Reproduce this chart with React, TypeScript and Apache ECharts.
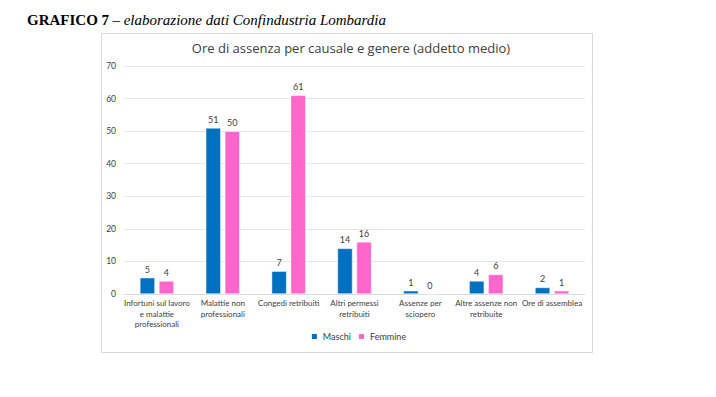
import React, { useEffect, useRef } from "react";
import * as echarts from "echarts";

const categories = [
  "Infortuni sul lavoro\ne malattie\nprofessionali",
  "Malattie non\nprofessionali",
  "Congedi retribuiti",
  "Altri permessi\nretribuiti",
  "Assenze per\nsciopero",
  "Altre assenze non\nretribuite",
  "Ore di assemblea",
];
const maschi = [5, 51, 7, 14, 1, 4, 2];
const femmine = [4, 50, 61, 16, 0, 6, 1];
const seriesNames = ["Maschi", "Femmine"];

export default function App() {
  const ref = useRef<HTMLDivElement>(null);
  useEffect(() => {
    const chart = echarts.init(ref.current!, null, { renderer: "svg" });
    const labelStyle = {
      show: true,
      position: "top" as const,
      fontSize: 9,
      color: "#404040",
      fontFamily: "Lato",
      distance: 4,
    };
    chart.setOption({
      animation: false,
      backgroundColor: "#ffffff",
      graphic: [
        {
          type: "rect",
          shape: { x: 101.5, y: 33.5, width: 491, height: 319 },
          style: { fill: "none", stroke: "#d9d9d9", lineWidth: 1 },
          z: -1,
        },
        {
          type: "text",
          left: 27,
          top: 12,
          style: {
            text: "{b|GRAFICO 7} {i|– elaborazione dati Confindustria Lombardia}",
            rich: {
              b: { fontFamily: "Liberation Serif", fontWeight: "bold", fontSize: 15, fill: "#000" },
              i: { fontFamily: "Liberation Serif", fontStyle: "italic", fontSize: 15, fill: "#000" },
            },
          },
        },
      ],
      title: {
        text: "Ore di assenza per causale e genere (addetto medio)",
        left: 346,
        textAlign: "center",
        top: 36,
        textStyle: { fontFamily: "Open Sans", fontWeight: "normal", fontSize: 13, color: "#404040" },
      },
      legend: {
        data: seriesNames,
        bottom: 51,
        left: "center",
        itemWidth: 7,
        itemHeight: 7,
        itemGap: 6,
        icon: "rect",
        textStyle: { fontFamily: "Lato", fontSize: 9, color: "#404040" },
      },
      grid: { left: 124, right: 131, top: 66, bottom: 103 },
      xAxis: {
        type: "category",
        data: categories,
        axisTick: { show: false },
        axisLine: { lineStyle: { color: "#d9d9d9" } },
        axisLabel: {
          interval: 0,
          fontFamily: "Lato",
          fontSize: 8,
          color: "#404040",
          lineHeight: 10.5,
          margin: 4,
        },
      },
      yAxis: {
        type: "value",
        min: 0,
        max: 70,
        interval: 10,
        axisLabel: { fontFamily: "Lato", fontSize: 8.5, color: "#404040", margin: 8 },
        splitLine: { lineStyle: { color: "#e6e6e6" } },
      },
      series: [
        {
          name: seriesNames[0],
          type: "bar",
          data: maschi,
          barWidth: 15,
          barGap: "27%",
          itemStyle: { color: "#0070C0", borderColor: "#ffffff", borderWidth: 0.5 },
          label: labelStyle,
        },
        {
          name: seriesNames[1],
          type: "bar",
          data: femmine,
          barWidth: 15,
          itemStyle: { color: "#FF66CC", borderColor: "#ffffff", borderWidth: 0.5 },
          label: labelStyle,
        },
      ],
    });
    return () => chart.dispose();
  }, []);
  return (
    <div
      ref={ref}
      style={{ position: "absolute", left: 0, top: 0, width: 716, height: 397 }}
    />
  );
}
